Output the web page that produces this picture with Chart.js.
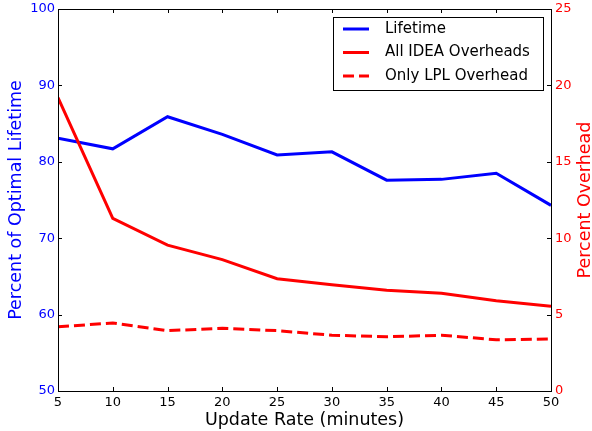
<!DOCTYPE html>
<html>
<head>
<meta charset="utf-8">
<script src="https://cdn.jsdelivr.net/npm/chart.js@4/dist/chart.umd.min.js"></script>
<style>
  html, body { margin: 0; padding: 0; background: #fff; }
  #wrap { width: 592px; height: 431px; }
</style>
</head>
<body>
<div id="wrap"><canvas id="chart" width="592" height="431"></canvas></div>
<script>
const rates = [5, 10, 15, 20, 25, 30, 35, 40, 45, 50];
const lifetime = [83.1, 81.7, 85.9, 83.6, 80.9, 81.3, 77.6, 77.7, 78.5, 74.3];
const allOverhead = [19.2, 11.3, 9.55, 8.6, 7.35, 6.95, 6.6, 6.4, 5.9, 5.55];
const lplOverhead = [4.2, 4.45, 3.95, 4.1, 3.95, 3.65, 3.55, 3.65, 3.35, 3.4];

const FONT = 'DejaVu Sans';
const BLUE = '#0000ff';
const RED = '#ff0000';

const toPoints = (vals) => vals.map((v, i) => ({ x: rates[i], y: v }));

// matplotlib style frame with inward ticks, legend and right axis title
const framePlugin = {
  id: 'frame',
  afterDraw(chart) {
    const { ctx, chartArea: a, scales } = chart;
    const len = 4;
    ctx.save();
    ctx.strokeStyle = '#000';
    ctx.lineWidth = 1;
    ctx.beginPath();
    scales.x.ticks.forEach(t => {
      const px = Math.round(scales.x.getPixelForValue(t.value)) + 0.5;
      ctx.moveTo(px, a.bottom); ctx.lineTo(px, a.bottom - len);
      ctx.moveTo(px, a.top); ctx.lineTo(px, a.top + len);
    });
    scales.y.ticks.forEach(t => {
      const py = Math.round(scales.y.getPixelForValue(t.value)) + 0.5;
      ctx.moveTo(a.left, py); ctx.lineTo(a.left + len, py);
    });
    scales.y2.ticks.forEach(t => {
      const py = Math.round(scales.y2.getPixelForValue(t.value)) + 0.5;
      ctx.moveTo(a.right, py); ctx.lineTo(a.right - len, py);
    });
    ctx.stroke();
    ctx.strokeRect(Math.round(a.left) + 0.5, Math.round(a.top) + 0.5,
      Math.round(a.right - a.left), Math.round(a.bottom - a.top));

    // right title reads bottom to top, like the left one
    ctx.save();
    ctx.translate(585, (a.top + a.bottom) / 2);
    ctx.rotate(-Math.PI / 2);
    ctx.font = '17.5px ' + FONT;
    ctx.fillStyle = RED;
    ctx.textAlign = 'center';
    ctx.textBaseline = 'middle';
    ctx.fillText('Percent Overhead', 0, 0);
    ctx.restore();

    // legend box in the upper right corner
    const bx = 333, by = 17, bw = 210, bh = 73;
    ctx.fillStyle = '#fff';
    ctx.fillRect(bx, by, bw, bh);
    ctx.strokeStyle = '#000';
    ctx.strokeRect(bx + 0.5, by + 0.5, bw, bh);
    ctx.font = '15px ' + FONT;
    ctx.textBaseline = 'middle';
    chart.data.datasets.forEach((ds, i) => {
      const y = by + 12 + i * 23.5;
      ctx.strokeStyle = ds.borderColor;
      ctx.lineWidth = 3;
      ctx.setLineDash(ds.borderDash || []);
      ctx.beginPath();
      ctx.moveTo(bx + 10, y); ctx.lineTo(bx + 36, y);
      ctx.stroke();
      ctx.setLineDash([]);
      ctx.fillStyle = '#000';
      ctx.fillText(ds.label, bx + 52, y);
    });
    ctx.restore();
  }
};

// let the y tick labels hang over the plot edges instead of padding them
const noOverhang = (width) => (s) => {
  s.width = width;
  s.paddingTop = 0;
  s.paddingBottom = 0;
};

new Chart(document.getElementById('chart'), {
  type: 'line',
  data: {
    datasets: [{
      label: 'Lifetime',
      data: toPoints(lifetime),
      yAxisID: 'y',
      borderColor: BLUE,
      borderWidth: 3,
      order: 3
    }, {
      label: 'All IDEA Overheads',
      data: toPoints(allOverhead),
      yAxisID: 'y2',
      borderColor: RED,
      borderWidth: 3,
      order: 2
    }, {
      label: 'Only LPL Overhead',
      data: toPoints(lplOverhead),
      yAxisID: 'y2',
      borderColor: RED,
      borderWidth: 3,
      borderDash: [11, 5],
      order: 1
    }]
  },
  options: {
    responsive: false,
    animation: false,
    layout: { padding: { top: 9, left: 0, right: 0, bottom: 0 } },
    elements: { point: { radius: 0 }, line: { tension: 0 } },
    plugins: { legend: { display: false }, tooltip: { enabled: false } },
    scales: {
      x: {
        type: 'linear',
        min: 5,
        max: 50,
        grid: { display: false, drawTicks: false },
        border: { display: false },
        ticks: { stepSize: 5, color: '#000', padding: 4, font: { family: FONT, size: 13 } },
        title: { display: true, text: 'Update Rate (minutes)', color: '#000', padding: { top: 0, bottom: 0 }, font: { family: FONT, size: 17.5 } },
        afterFit: (s) => { s.height = 40; s.paddingLeft = 0; s.paddingRight = 0; }
      },
      y: {
        position: 'left',
        min: 50,
        max: 100,
        grid: { display: false, drawTicks: false },
        border: { display: false },
        ticks: { stepSize: 10, color: BLUE, padding: 3, font: { family: FONT, size: 13 } },
        title: { display: true, text: 'Percent of Optimal Lifetime', color: BLUE, padding: { top: 6, bottom: 0 }, font: { family: FONT, size: 17.5 } },
        afterFit: noOverhang(58)
      },
      y2: {
        position: 'right',
        min: 0,
        max: 25,
        grid: { display: false, drawTicks: false },
        border: { display: false },
        ticks: { stepSize: 5, color: RED, padding: 4, font: { family: FONT, size: 13 } },
        afterFit: noOverhang(41)
      }
    }
  },
  plugins: [framePlugin]
});
</script>
</body>
</html>
